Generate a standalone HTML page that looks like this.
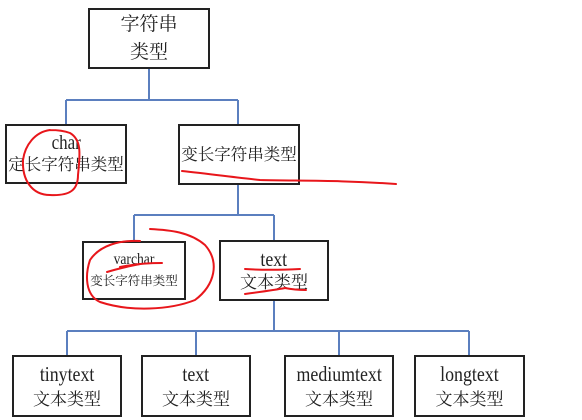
<!DOCTYPE html>
<html><head><meta charset="utf-8"><style>
body{margin:0;width:582px;height:420px;background:#fff;overflow:hidden;position:relative;font-family:"Liberation Serif","Noto Serif CJK SC","Noto Sans CJK SC",serif;color:#222}
.b{position:absolute;border:2px solid #222;box-sizing:border-box;text-align:center;background:#fff;display:flex;flex-direction:column;justify-content:center;align-items:center;line-height:1.3;white-space:nowrap}
.b span{display:block}
.l{font-family:"Liberation Serif",serif;font-size:19px;transform:scaleX(0.85)}
svg{position:absolute;left:0;top:0}
</style></head><body>
<svg width="582" height="420">
<g stroke="#5b7fbf" stroke-width="2" fill="none">
<path d="M149 69V100M66 100H238M66 100V124M238 100V124"/>
<path d="M238 184V215M134 215H274M134 215V241M274 215V241"/>
<path d="M274 300V331M67 331H469M67 331V355M196 331V355M339 331V355M469 331V355"/>
</g>
</svg>
<div class="b" style="left:88px;top:8px;width:122px;height:61px;font-size:19px;line-height:1.45">字符串<br>类型</div>
<div class="b" style="left:5px;top:124px;width:122px;height:60px;font-size:16.5px"><span class="l" style="font-size:20px;line-height:1.1">char</span><span>定长字符串类型</span></div>
<div class="b" style="left:178px;top:124px;width:122px;height:61px;font-size:16.5px">变长字符串类型</div>
<div class="b" style="left:82px;top:241px;width:104px;height:59px;font-size:12.5px"><span class="l" style="font-size:16px;line-height:1.3">varchar</span><span style="line-height:1.6">变长字符串类型</span></div>
<div class="b" style="left:219px;top:240px;width:110px;height:61px;font-size:17px"><span class="l" style="font-size:21px;line-height:1.2">text</span><span>文本类型</span></div>
<div class="b" style="left:12px;top:355px;width:110px;height:62px;font-size:17px"><span class="l" style="font-size:21px;line-height:1.3">tinytext</span><span>文本类型</span></div>
<div class="b" style="left:141px;top:355px;width:110px;height:62px;font-size:17px"><span class="l" style="font-size:21px;line-height:1.3">text</span><span>文本类型</span></div>
<div class="b" style="left:284px;top:355px;width:110px;height:62px;font-size:17px"><span class="l" style="font-size:21px;line-height:1.3">mediumtext</span><span>文本类型</span></div>
<div class="b" style="left:414px;top:355px;width:111px;height:62px;font-size:17px"><span class="l" style="font-size:21px;line-height:1.3">longtext</span><span>文本类型</span></div>
<svg width="582" height="420">
<g stroke="#e8161b" stroke-width="2" fill="none" stroke-linecap="round">
<path d="M50 130C35 132 25 145 23 160C22 180 32 195 50 195C70 196 78 190 78 175C80 155 82 140 70 133C62 130 55 130 50 130"/>
<path d="M182 171C210 174 240 178 260 180C300 181 340 180 396 184"/>
<path d="M150 229C170 230 190 232 205 245C220 262 215 285 195 300C170 310 130 312 100 302C85 295 85 275 90 260C100 245 120 240 140 241"/>
<path d="M120 267C135 264 150 263 162 263"/>
<path d="M107 272C120 268 135 265 140 264"/>
<path d="M245 269C260 270 280 270 300 269"/>
<path d="M245 294C260 292 275 290 285 288C295 290 300 290 306 290"/>
</g>
</svg>
</body></html>
